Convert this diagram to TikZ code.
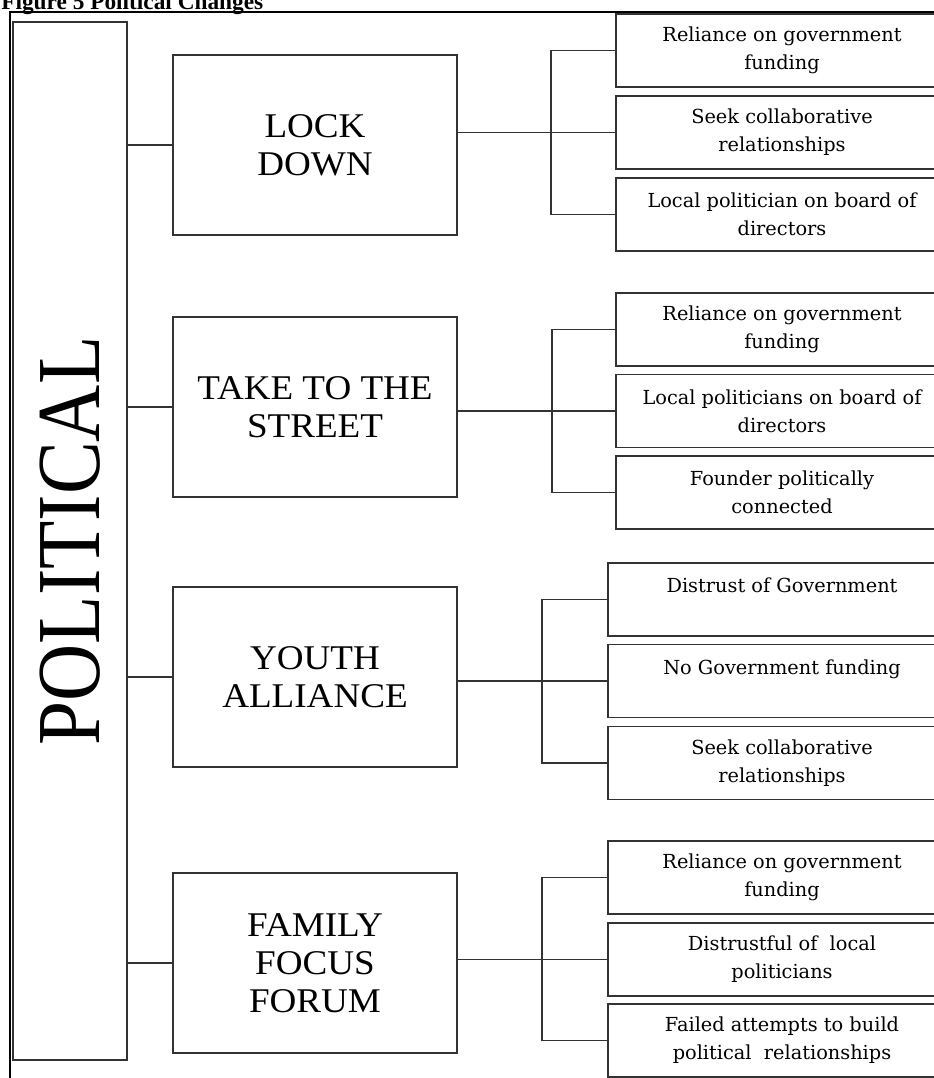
\documentclass[tikz,border=0pt]{standalone}
\usepackage{fontspec}
\setmainfont{Liberation Serif}
\newfontfamily\itemfont{DejaVu Serif}
\newfontfamily\mainfont[FakeStretch=1.07]{Liberation Serif}

\tikzset{
	outline/.style={draw=black!80, line width=1.2pt},
	link/.style={draw=black!80, line width=1.2pt},
	polbox/.style={outline, minimum width=85.5pt, minimum height=778.5pt},
	mainbox/.style={outline, minimum width=213pt, minimum height=135pt, align=center, font=\mainfont\fontsize{26}{28.5}\selectfont},
	itembox/.style={outline, minimum width=249pt, minimum height=54.75pt, align=center, font=\itemfont\fontsize{14.5}{21}\selectfont},
	wideitem/.style={itembox, minimum width=261pt}
}

\begin{document}
\begin{tikzpicture}[x=0.75pt, y=-0.75pt]
			%%%%% START %%%%%
			\useasboundingbox (0, 0) rectangle (934, 1078);
			\clip (0, 0) rectangle (934, 1078);
			
			\node[anchor=base west, font=\bfseries\fontsize{17.5}{19}\selectfont, inner sep=0pt] (title) at (1, 9) {Figure 5 Political Changes};
			\draw[line width=1.6pt] (10, 12) rectangle (975, 1100);
			
			\node[polbox] (pol) at (70, 541) {};
			\node[rotate=90, inner sep=0pt, font=\fontsize{67.5}{70}\selectfont] (poltext) at (pol.center) {\scalebox{0.88}[1]{POLITICAL}};
			
			%%%%% MIDDLE %%%%%
			\node[mainbox] (lock) at (315, 145) {LOCK\\DOWN};
			\node[mainbox] (street) at (315, 407) {TAKE TO THE\\STREET};
			\node[mainbox] (youth) at (315, 677) {YOUTH\\ALLIANCE};
			\node[mainbox] (family) at (315, 963) {FAMILY\\FOCUS\\FORUM};
			
			%%%%% RIGHT %%%%%
			\node[itembox] (lock1) at (782, 50.5) {Reliance on government\\funding};
			\node[itembox] (lock2) at (782, 132.5) {Seek collaborative\\relationships};
			\node[itembox] (lock3) at (782, 214.5) {Local politician on board of\\directors};
			
			\node[itembox] (street1) at (782, 329.5) {Reliance on government\\funding};
			\node[itembox] (street2) at (782, 411) {Local politicians on board of\\directors};
			\node[itembox] (street3) at (782, 492.5) {Founder politically\\connected};
			
			\node[wideitem] (youth1) at (782, 599.5) {Distrust of Government\\\mbox{}};
			\node[wideitem] (youth2) at (782, 681) {No Government funding\\\mbox{}};
			\node[wideitem] (youth3) at (782, 763) {Seek collaborative\\relationships};
			
			\node[wideitem] (family1) at (782, 877.5) {Reliance on government\\funding};
			\node[wideitem] (family2) at (782, 959.5) {Distrustful of~ local\\politicians};
			\node[wideitem] (family3) at (782, 1040.5) {Failed attempts to build\\political~ relationships};
			
			\coordinate (lockfork) at (551, 0);
			\coordinate (streetfork) at (552, 0);
			\coordinate (youthfork) at (542, 0);
			\coordinate (familyfork) at (542, 0);
			
			%%%%% LINKS %%%%%
			\draw[link] (pol.east |- lock.west) -- (lock.west);
			\draw[link] (pol.east |- street.west) -- (street.west);
			\draw[link] (pol.east |- youth.west) -- (youth.west);
			\draw[link] (pol.east |- family.west) -- (family.west);
			
			\draw[link] (lock.east |- lock2.west) -- (lock2.west);
			\draw[link] (lock1.west) -| (lockfork |- lock3.west) -- (lock3.west);
			
			\draw[link] (street.east |- street2.west) -- (street2.west);
			\draw[link] (street1.west) -| (streetfork |- street3.west) -- (street3.west);
			
			\draw[link] (youth.east |- youth2.west) -- (youth2.west);
			\draw[link] (youth1.west) -| (youthfork |- youth3.west) -- (youth3.west);
			
			\draw[link] (family.east |- family2.west) -- (family2.west);
			\draw[link] (family1.west) -| (familyfork |- family3.west) -- (family3.west);
			
			%%%%% END %%%%%
\end{tikzpicture}
\end{document}
